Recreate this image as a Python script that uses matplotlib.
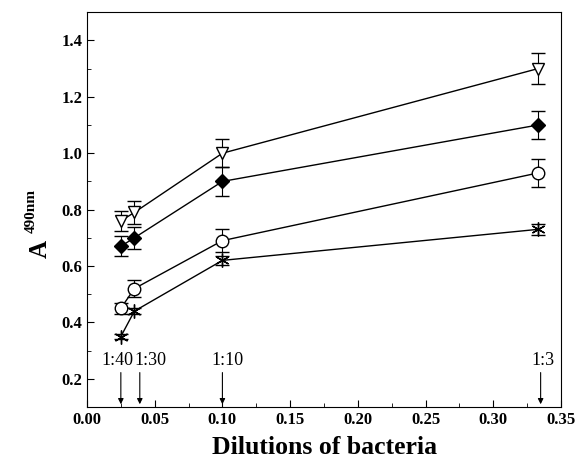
import numpy as np
import matplotlib.pyplot as plt
from matplotlib.ticker import MultipleLocator

plt.rcParams['font.family'] = 'Liberation Serif'

# dilution positions (fraction of bacteria)
x = [0.025, 0.035, 0.1, 0.333]

tri = [0.76, 0.79, 1.00, 1.30]
tri_err = [0.035, 0.04, 0.05, 0.055]
dia = [0.67, 0.70, 0.90, 1.10]
dia_err = [0.035, 0.04, 0.05, 0.05]
circ = [0.45, 0.52, 0.69, 0.93]
circ_err = [0.02, 0.03, 0.04, 0.05]
star = [0.35, 0.44, 0.62, 0.73]
star_err = [0.01, 0.01, 0.015, 0.02]

arrow_x = [0.025, 0.039, 0.1, 0.335]
label_x = [0.0225, 0.0465, 0.1035, 0.3365]
arrow_lbl = ["1:40", "1:30", "1:10", "1:3"]

fig = plt.figure(figsize=(5.78, 4.65), dpi=100)
ax = fig.add_axes([0.1505, 0.1247, 0.82, 0.849])

eb = dict(color='black', lw=1, capsize=5, elinewidth=0.8, capthick=0.8, ms=9, mew=1)
ax.errorbar(x, tri, yerr=tri_err, marker='v', mfc='white', mec='black', **eb)
ax.errorbar(x, dia, yerr=dia_err, marker='D', mfc='black', mec='black', **{**eb, 'ms': 7})
ax.errorbar(x, circ, yerr=circ_err, marker='o', mfc='white', mec='black', **eb)
ax.errorbar(x, star, yerr=star_err, marker=(6, 2, 0), mfc='black', mec='black', **{**eb, 'ms': 10})

for xa, xl, lb in zip(arrow_x, label_x, arrow_lbl):
    ax.annotate('', xy=(xa, 0.1), xytext=(xa, 0.232),
                arrowprops=dict(arrowstyle='-|>', color='black', lw=0.8, mutation_scale=8))
    ax.text(xl, 0.234, lb, ha='center', va='bottom', fontsize=13)

ax.set_xlim(0, 0.35)
ax.set_ylim(0.1, 1.5)
xt = np.arange(0, 0.351, 0.05)
yt = [0.2, 0.4, 0.6, 0.8, 1.0, 1.2, 1.4]
ax.set_xticks(xt)
ax.set_yticks(yt)
ax.xaxis.set_minor_locator(MultipleLocator(0.025))
ax.yaxis.set_minor_locator(MultipleLocator(0.1))
ax.tick_params(which='both', direction='in', top=False, right=False)
ax.tick_params(which='major', length=5, labelsize=12)
ax.tick_params(which='minor', length=3)
ax.set_xticklabels(["%.2f" % v for v in xt], fontweight='bold')
ax.set_yticklabels(["%.1f" % v for v in yt], fontweight='bold')

fig.text(325 / 578, 1 - 447 / 465, "Dilutions of bacteria", ha='center', va='center',
         fontsize=18.5, fontweight='bold')
fig.text(40 / 578, 1 - 249 / 465, "A", ha='center', va='center', rotation=90,
         fontsize=18, fontweight='bold')
fig.text(31 / 578, 1 - 211 / 465, "490nm", ha='center', va='center', rotation=90,
         fontsize=11, fontweight='bold')

fig.savefig('out.png', dpi=100)
